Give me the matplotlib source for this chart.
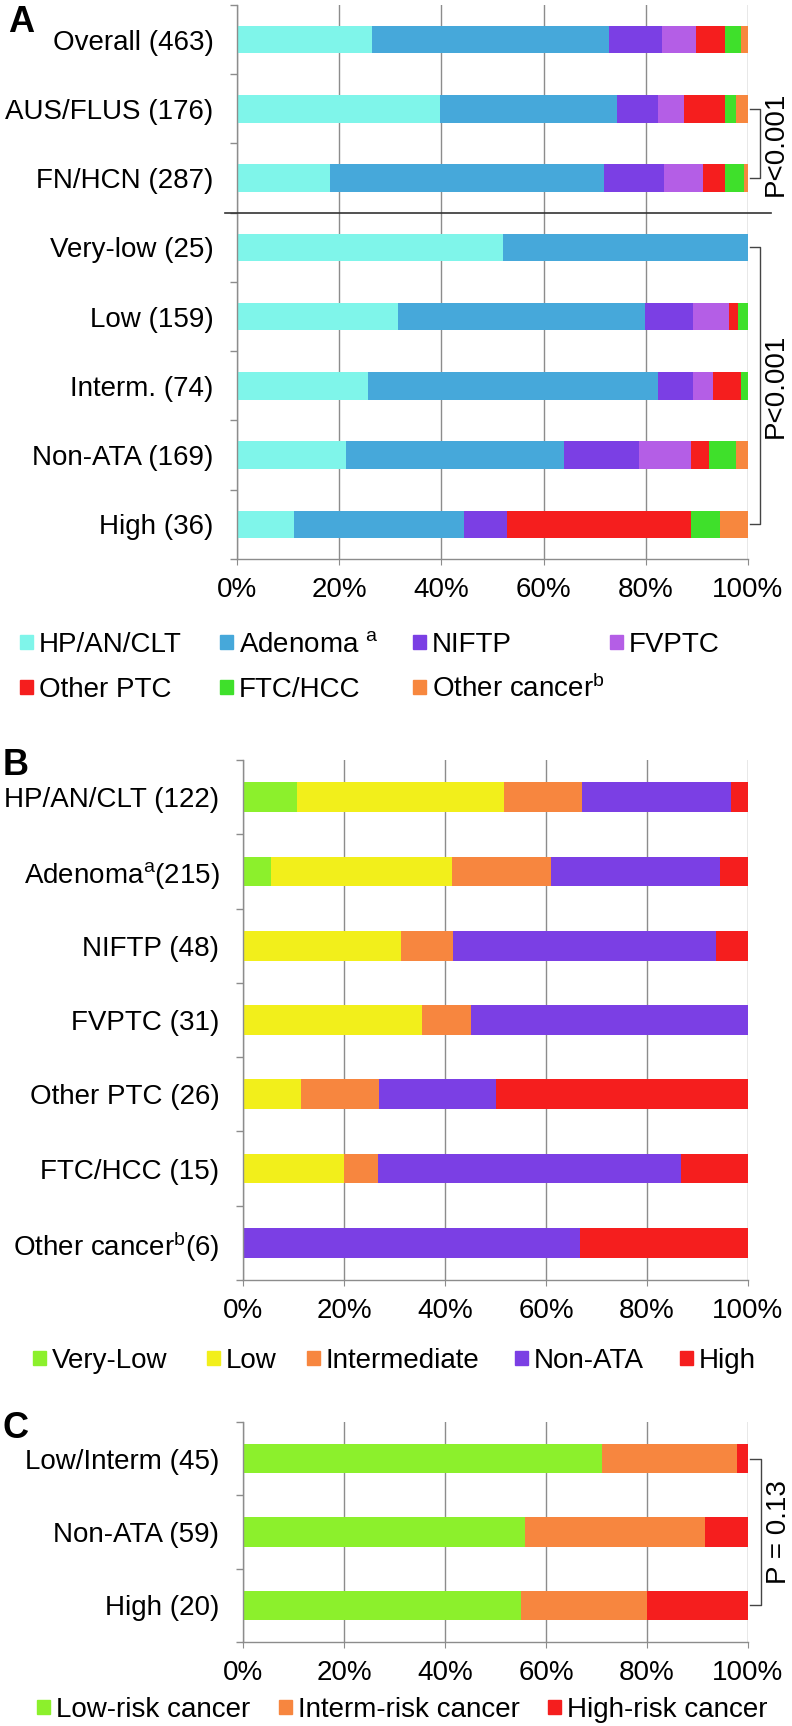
import numpy as np
import matplotlib
matplotlib.use('Agg')
import matplotlib.pyplot as plt
from matplotlib.patches import Rectangle

plt.rcParams['font.family'] = ['Liberation Sans', 'DejaVu Sans']
plt.rcParams['mathtext.fontset'] = 'custom'
plt.rcParams['mathtext.rm'] = 'Liberation Sans'
plt.rcParams['mathtext.it'] = 'Liberation Sans:italic'

# ---- panel A: histology by group (counts) ----
groups_a = ['Overall (463)', 'AUS/FLUS (176)', 'FN/HCN (287)', 'Very-low (25)',
            'Low (159)', 'Interm. (74)', 'Non-ATA (169)', 'High (36)']
histology = ['HP/AN/CLT', r'Adenoma $^{\rm a}$', 'NIFTP', 'FVPTC',
             'Other PTC', 'FTC/HCC', r'Other cancer$^{\rm b}$']
hist_colors = ['#7ff5ea', '#46a8da', '#7b3fe4', '#b45ee6', '#f51e1e', '#3fe02b', '#f7873e']
overall = [122, 215, 48, 31, 26, 15, 6]
aus_flus = [70, 61, 14, 9, 14, 4, 4]
fn_hcn = [52, 154, 34, 22, 12, 11, 2]
very_low = [13, 12, 0, 0, 0, 0, 0]
low = [50, 77, 15, 11, 3, 3, 0]
interm = [19, 42, 5, 3, 4, 1, 0]
non_ata = [36, 72, 25, 17, 6, 9, 4]
high = [4, 12, 3, 0, 13, 2, 2]

# ---- panel B: risk group by histology (counts) ----
groups_b = ['HP/AN/CLT (122)', r'Adenoma$^{\rm a}$(215)', 'NIFTP (48)', 'FVPTC (31)',
            'Other PTC (26)', 'FTC/HCC (15)', r'Other cancer$^{\rm b}$(6)']
risk = ['Very-Low', 'Low', 'Intermediate', 'Non-ATA', 'High']
risk_colors = ['#8cf02c', '#f2ef1b', '#f7863f', '#7b3fe4', '#f51e1e']
hp_an_clt = [13, 50, 19, 36, 4]
adenoma = [12, 77, 42, 72, 12]
niftp = [0, 15, 5, 25, 3]
fvptc = [0, 11, 3, 17, 0]
other_ptc = [0, 3, 4, 6, 13]
ftc_hcc = [0, 3, 1, 9, 2]
other_cancer = [0, 0, 0, 4, 2]

# ---- panel C: cancer risk by group (counts) ----
groups_c = ['Low/Interm (45)', 'Non-ATA (59)', 'High (20)']
cancer_risk = ['Low-risk cancer', 'Interm-risk cancer', 'High-risk cancer']
cancer_colors = ['#8cf02c', '#f7863f', '#f51e1e']
low_interm_c = [32, 12, 1]
non_ata_c = [33, 21, 5]
high_c = [11, 5, 4]

W, H = 792, 1726
fig = plt.figure(figsize=(W / 100, H / 100), dpi=100)
GRAY = '#8c8c8c'


def px_axes(left, top, right, bottom):
    return fig.add_axes([left / W, 1 - bottom / H, (right - left) / W, (bottom - top) / H])


def stacked(ax, rows, colors, height=0.4):
    data = np.array(rows, float)
    pct = data / data.sum(axis=1, keepdims=True) * 100
    y = np.arange(len(rows))
    left = np.zeros(len(rows))
    for j, c in enumerate(colors):
        ax.barh(y, pct[:, j], left=left, height=height, color=c, linewidth=0, zorder=2)
        left += pct[:, j]


def style(ax, labels):
    n = len(labels)
    ax.set_xlim(0, 100)
    ax.set_ylim(n - 0.5, -0.5)
    ax.set_yticks(range(n))
    ax.set_yticklabels(labels, fontsize=20)
    ax.set_yticks(np.arange(n + 1) - 0.5, minor=True)
    ax.tick_params(axis='y', which='major', length=0, pad=17)
    ax.tick_params(axis='y', which='minor', length=5, color=GRAY, width=1)
    ax.set_xticks(range(0, 101, 20))
    ax.set_xticklabels(['%d%%' % v for v in range(0, 101, 20)], fontsize=20)
    ax.tick_params(axis='x', length=4, color=GRAY, pad=9)
    ax.grid(axis='x', color=GRAY, lw=1)
    ax.set_axisbelow(True)
    for s in ['top', 'right']:
        ax.spines[s].set_visible(False)
    for s in ['left', 'bottom']:
        ax.spines[s].set_color(GRAY)
        ax.spines[s].set_linewidth(1)


def bracket(ax, y1, y2, x0, x1, text, tx):
    ax.plot([x0, x1, x1, x0], [y1, y1, y2, y2], color='#444444', lw=1, clip_on=False)
    ax.text(tx, (y1 + y2) / 2, text, rotation=90, ha='center', va='center',
            fontsize=20, clip_on=False)


def legend_row(labels, colors, xs, y):
    for lab, c, x in zip(labels, colors, xs):
        fig.add_artist(Rectangle((x / W, 1 - (y + 7) / H), 13 / W, 14 / H,
                                 transform=fig.transFigure, color=c))
        fig.text((x + 19) / W, 1 - (y + 10) / H, lab, ha='left', va='baseline', fontsize=20)


# A
axA = px_axes(237, 5, 748, 559)
stacked(axA, [overall, aus_flus, fn_hcn, very_low, low, interm, non_ata, high], hist_colors)
style(axA, groups_a)
axA.axhline(2.5, xmin=-0.023, xmax=1.045, color='#333333', lw=1.2, clip_on=False, zorder=3)
bracket(axA, 1, 2, 100.3, 102.4, 'P<0.001', 105.5)
bracket(axA, 3, 7, 100.3, 102.4, 'P<0.001', 105.5)
legend_row(histology[:4], hist_colors[:4], [20, 220, 413, 610], 642)
legend_row(histology[4:], hist_colors[4:], [20, 220, 413], 687)

# B
axB = px_axes(243, 760, 748, 1280)
stacked(axB, [hp_an_clt, adenoma, niftp, fvptc, other_ptc, ftc_hcc, other_cancer], risk_colors)
style(axB, groups_b)
legend_row(risk, risk_colors, [33, 207, 307, 515, 680], 1358)

# C
axC = px_axes(243, 1422, 748, 1642)
stacked(axC, [low_interm_c, non_ata_c, high_c], cancer_colors)
style(axC, groups_c)
bracket(axC, 0, 2, 100.3, 102.5, 'P = 0.13', 106.1)
legend_row(cancer_risk, cancer_colors, [37, 279, 548], 1707)

for letter, x, y in [('A', 8, 32), ('B', 3, 775), ('C', 3, 1438)]:
    fig.text(x / W, 1 - y / H, letter, fontsize=26, fontweight='bold', ha='left', va='baseline')

fig.savefig('out.png', dpi=100)
